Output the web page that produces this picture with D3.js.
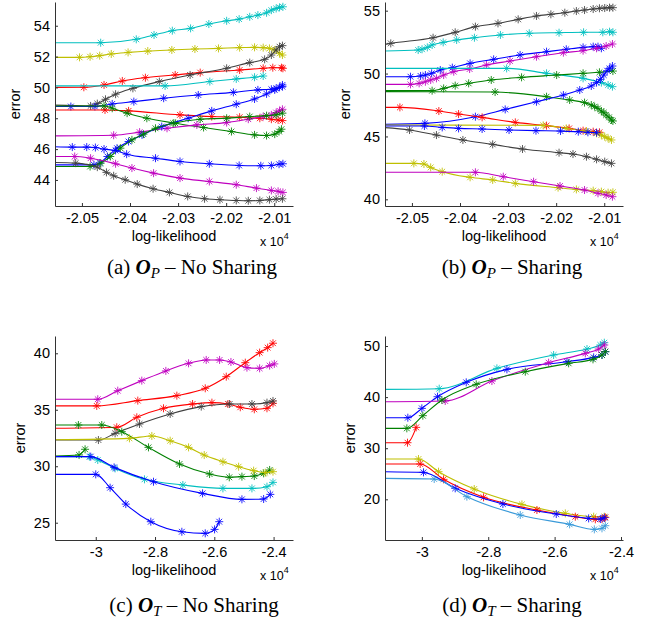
<!DOCTYPE html>
<html>
<head>
<meta charset="utf-8">
<script src="https://cdn.jsdelivr.net/npm/d3@7"></script>
<style>
  body { margin: 0; background: #fff; }
</style>
</head>
<body>
<svg id="fig" width="656" height="623"></svg>
<script>
// tick labels
const ticksXP = [-2.05, -2.04, -2.03, -2.02, -2.01];
const ticksXT = [-3, -2.8, -2.6, -2.4];
const ticksYa = [44, 46, 48, 50, 52, 54];
const ticksYb = [40, 45, 50, 55];
const ticksYc = [25, 30, 35, 40];
const ticksYd = [20, 30, 40, 50];

const captionLetters = ["(a)", "(b)", "(c)", "(d)"];
const captionSubs = ["P", "P", "T", "T"];
const captionTails = ["No Sharing", "Sharing", "No Sharing", "Sharing"];

// each run: [colour name, starting error (flat part), [[log-likelihood x1e4, error], ...]]
const panelA = [
  ["cyan", 52.9, [[-2.0461,52.90],[-2.0387,53.12],[-2.0350,53.40],[-2.0312,53.68],[-2.0274,53.83],[-2.0236,54.11],[-2.0199,54.32],[-2.0173,54.43],[-2.0151,54.58],[-2.0134,54.69],[-2.0116,54.84],[-2.0106,55.01],[-2.0096,55.12],[-2.0089,55.19],[-2.0082,55.23]]],
  ["yellow", 51.95, [[-2.0505,51.95],[-2.0483,51.99],[-2.0463,52.06],[-2.0439,52.17],[-2.0404,52.27],[-2.0363,52.36],[-2.0313,52.43],[-2.0265,52.49],[-2.0216,52.53],[-2.0172,52.58],[-2.0141,52.60],[-2.0123,52.58],[-2.0110,52.53],[-2.0099,52.43],[-2.0089,52.21],[-2.0083,52.10]]],
  ["red", 50.0, [[-2.0496,50.01],[-2.0454,50.16],[-2.0416,50.42],[-2.0368,50.63],[-2.0306,50.81],[-2.0254,50.96],[-2.0172,51.13],[-2.0123,51.24],[-2.0103,51.28],[-2.0085,51.28],[-2.0082,51.24]]],
  ["gray", 48.85, [[-2.0482,48.80],[-2.0468,48.95],[-2.0451,49.23],[-2.0430,49.56],[-2.0394,49.94],[-2.0339,50.38],[-2.0275,50.81],[-2.0199,51.24],[-2.0151,51.61],[-2.0120,51.82],[-2.0106,52.10],[-2.0096,52.43],[-2.0089,52.64],[-2.0083,52.71]]],
  ["cyan", 50.1, [[-2.0327,50.10],[-2.0234,50.38],[-2.0179,50.55],[-2.0141,50.66],[-2.0123,50.74]]],
  ["blue", 48.76, [[-2.0523,48.76],[-2.0473,48.76],[-2.0437,48.93],[-2.0392,49.08],[-2.0330,49.30],[-2.0258,49.51],[-2.0185,49.68],[-2.0134,49.84],[-2.0106,49.88],[-2.0096,49.94],[-2.0083,50.05]]],
  ["red", 48.54, [[-2.0452,48.54],[-2.0403,48.48],[-2.0296,48.22],[-2.0230,48.11],[-2.0172,48.07],[-2.0130,48.00],[-2.0106,47.94],[-2.0092,47.89],[-2.0083,47.85]]],
  ["green", 48.8, [[-2.0454,48.80],[-2.0437,48.65],[-2.0406,48.33],[-2.0365,48.00],[-2.0306,47.68],[-2.0247,47.40],[-2.0189,47.14],[-2.0141,46.92],[-2.0116,46.88],[-2.0099,46.97],[-2.0090,47.14],[-2.0085,47.29]]],
  ["magenta", 46.86, [[-2.0434,46.90],[-2.0380,47.10],[-2.0323,47.35],[-2.0261,47.57],[-2.0199,47.72],[-2.0154,47.94],[-2.0123,48.11],[-2.0106,48.22],[-2.0096,48.37],[-2.0089,48.48],[-2.0083,48.58]]],
  ["blue", 44.98, [[-2.0475,44.98],[-2.0463,45.09],[-2.0447,45.52],[-2.0427,46.06],[-2.0403,46.49],[-2.0375,46.92],[-2.0334,47.46],[-2.0279,48.00],[-2.0230,48.48],[-2.0179,48.91],[-2.0141,49.25],[-2.0116,49.58],[-2.0099,49.84],[-2.0089,50.01],[-2.0083,50.16]]],
  ["green", 44.87, [[-2.0483,44.87],[-2.0461,45.09],[-2.0441,45.52],[-2.0420,46.06],[-2.0396,46.60],[-2.0372,46.97],[-2.0347,47.35],[-2.0310,47.68],[-2.0254,47.94],[-2.0199,48.00],[-2.0151,48.11],[-2.0116,48.17],[-2.0096,48.22],[-2.0083,48.33]]],
  ["blue", 46.15, [[-2.0520,46.13],[-2.0490,46.13],[-2.0472,46.10],[-2.0454,46.00],[-2.0430,45.91],[-2.0407,45.67],[-2.0347,45.41],[-2.0296,45.20],[-2.0235,45.05],[-2.0173,44.94],[-2.0128,44.92],[-2.0106,44.94],[-2.0090,45.02],[-2.0082,45.05]]],
  ["magenta", 45.52, [[-2.0515,45.52],[-2.0482,45.41],[-2.0430,45.05],[-2.0396,44.77],[-2.0351,44.44],[-2.0296,44.12],[-2.0235,43.90],[-2.0179,43.69],[-2.0137,43.47],[-2.0106,43.32],[-2.0092,43.26],[-2.0082,43.19]]],
  ["gray", 45.13, [[-2.0513,45.09],[-2.0468,44.83],[-2.0449,44.49],[-2.0434,44.27],[-2.0410,44.01],[-2.0385,43.73],[-2.0352,43.43],[-2.0318,43.19],[-2.0280,42.93],[-2.0245,42.78],[-2.0213,42.72],[-2.0179,42.67],[-2.0154,42.65],[-2.0130,42.67],[-2.0110,42.72],[-2.0096,42.76],[-2.0083,42.78]]]
];

const panelB = [
  ["gray", 52.32, [[-2.0544,52.40],[-2.0456,52.85],[-2.0410,53.28],[-2.0368,53.73],[-2.0321,53.99],[-2.0279,54.31],[-2.0241,54.58],[-2.0211,54.71],[-2.0182,54.84],[-2.0158,54.97],[-2.0141,55.05],[-2.0123,55.13],[-2.0110,55.19],[-2.0099,55.21],[-2.0089,55.24],[-2.0082,55.24]]],
  ["cyan", 51.79, [[-2.0487,51.87],[-2.0479,51.93],[-2.0468,52.08],[-2.0458,52.27],[-2.0435,52.48],[-2.0407,52.67],[-2.0370,52.85],[-2.0316,53.07],[-2.0256,53.20],[-2.0194,53.25],[-2.0143,53.28],[-2.0103,53.28],[-2.0089,53.33],[-2.0082,53.28]]],
  ["blue", 49.75, [[-2.0503,49.75],[-2.0482,49.81],[-2.0472,49.88],[-2.0459,50.02],[-2.0441,50.28],[-2.0416,50.47],[-2.0379,50.81],[-2.0330,51.13],[-2.0275,51.48],[-2.0220,51.74],[-2.0179,51.93],[-2.0144,52.08],[-2.0123,52.14],[-2.0113,52.14],[-2.0106,52.01]]],
  ["magenta", 49.14, [[-2.0503,49.14],[-2.0485,49.22],[-2.0472,49.35],[-2.0461,49.49],[-2.0449,49.62],[-2.0434,49.88],[-2.0413,50.15],[-2.0380,50.36],[-2.0345,50.68],[-2.0296,51.00],[-2.0241,51.34],[-2.0185,51.66],[-2.0144,51.82],[-2.0116,52.01],[-2.0096,52.19],[-2.0083,52.35]]],
  ["cyan", 50.41, [[-2.0303,50.41],[-2.0220,50.02],[-2.0144,49.62],[-2.0106,49.28],[-2.0092,49.09],[-2.0083,48.96]]],
  ["green", 48.64, [[-2.0458,48.64],[-2.0434,48.82],[-2.0410,49.04],[-2.0382,49.22],[-2.0335,49.49],[-2.0272,49.70],[-2.0199,49.88],[-2.0144,50.02],[-2.0110,50.10],[-2.0082,50.20]]],
  ["green", 48.56, [[-2.0327,48.53],[-2.0220,48.16],[-2.0172,47.90],[-2.0141,47.69],[-2.0127,47.50],[-2.0120,47.37],[-2.0113,47.23],[-2.0106,47.02],[-2.0101,46.89],[-2.0096,46.70],[-2.0090,46.52],[-2.0085,46.31],[-2.0082,46.23]]],
  ["blue", 45.96, [[-2.0473,46.04],[-2.0368,46.57],[-2.0306,47.15],[-2.0241,47.76],[-2.0185,48.29],[-2.0151,48.69],[-2.0127,49.01],[-2.0116,49.28],[-2.0108,49.54],[-2.0101,49.88],[-2.0094,50.23],[-2.0089,50.41],[-2.0083,50.60]]],
  ["red", 47.31, [[-2.0525,47.31],[-2.0444,47.02],[-2.0403,46.78],[-2.0354,46.52],[-2.0285,46.12],[-2.0220,45.86],[-2.0173,45.64],[-2.0144,45.46],[-2.0123,45.38],[-2.0110,45.33]]],
  ["yellow", 45.91, [[-2.0227,45.88],[-2.0179,45.64],[-2.0137,45.43],[-2.0116,45.25],[-2.0106,45.11],[-2.0099,44.98],[-2.0092,44.85],[-2.0085,44.72]]],
  ["blue", 45.83, [[-2.0474,45.83],[-2.0437,45.72],[-2.0403,45.64],[-2.0354,45.59],[-2.0298,45.51],[-2.0242,45.46],[-2.0191,45.43],[-2.0154,45.38],[-2.0134,45.33],[-2.0116,45.30]]],
  ["gray", 45.70, [[-2.0505,45.51],[-2.0449,45.11],[-2.0394,44.72],[-2.0332,44.37],[-2.0270,44.00],[-2.0194,43.71],[-2.0165,43.60],[-2.0137,43.39],[-2.0116,43.18],[-2.0099,43.00],[-2.0085,42.86]]],
  ["yellow", 42.86, [[-2.0496,42.86],[-2.0475,42.81],[-2.0461,42.54],[-2.0437,42.20],[-2.0379,41.75],[-2.0332,41.54],[-2.0285,41.27],[-2.0196,40.93],[-2.0158,40.79],[-2.0123,40.69],[-2.0106,40.61],[-2.0092,40.53],[-2.0082,40.56]]],
  ["magenta", 42.15, [[-2.0368,42.15],[-2.0310,41.80],[-2.0247,41.40],[-2.0192,41.06],[-2.0141,40.74],[-2.0113,40.48],[-2.0096,40.34],[-2.0083,40.21]]]
];

const panelC = [
  ["magenta", 35.93, [[-2.9932,35.93],[-2.9257,36.69],[-2.8446,37.58],[-2.7635,38.44],[-2.6869,39.11],[-2.6273,39.41],[-2.5822,39.41],[-2.5439,39.23],[-2.4899,38.73],[-2.4471,38.67],[-2.4133,38.91],[-2.3975,39.06]]],
  ["red", 35.34, [[-2.9966,35.34],[-2.8581,35.81],[-2.7264,36.25],[-2.6306,36.90],[-2.5597,37.93],[-2.4955,39.17],[-2.4471,40.06],[-2.4200,40.50],[-2.4020,40.89]]],
  ["red", 33.36, [[-2.9291,33.45],[-2.8615,34.33],[-2.7714,35.13],[-2.6734,35.51],[-2.6081,35.63],[-2.5541,35.51],[-2.5124,35.22],[-2.4651,35.04],[-2.4223,35.13],[-2.4020,35.57]]],
  ["gray", 32.32, [[-2.9910,32.32],[-2.9347,32.91],[-2.8525,33.74],[-2.7489,34.63],[-2.6441,35.28],[-2.5484,35.51],[-2.4730,35.51],[-2.4223,35.63],[-2.4020,35.78]]],
  ["green", 33.65, [[-3.0586,33.65],[-2.9797,33.65],[-2.9122,33.06],[-2.8221,31.67],[-2.7174,30.20],[-2.6160,29.31],[-2.5495,29.02],[-2.5068,29.08],[-2.4651,29.13],[-2.4336,29.37],[-2.4133,29.67]]],
  ["yellow", 32.35, [[-2.8863,32.47],[-2.8108,32.68],[-2.7489,32.26],[-2.6869,31.67],[-2.6340,30.99],[-2.5709,30.40],[-2.5180,29.96],[-2.4673,29.61],[-2.4279,29.43],[-2.4020,29.52]]],
  ["green", 30.91, [[-3.0563,31.00],[-3.0360,31.50]]],
  ["cyan", 30.85, [[-3.0214,30.85],[-2.9932,30.55],[-2.9347,29.81],[-2.8356,28.84],[-2.7061,28.34],[-2.5709,28.04],[-2.4730,28.04],[-2.4223,28.19],[-2.4020,28.57]]],
  ["blue", 30.85, [[-3.0169,30.85],[-2.9381,29.90],[-2.8052,28.63],[-2.6396,27.60],[-2.5068,27.07],[-2.4336,27.10],[-2.4110,27.51]]],
  ["blue", 29.28, [[-3.0000,29.28],[-2.9516,28.10],[-2.8986,26.65],[-2.8142,25.09],[-2.7095,24.20],[-2.6306,24.06],[-2.5991,24.41],[-2.5833,25.09]]]
];

const panelD = [
  ["cyan", 41.52, [[-2.9477,41.65],[-2.7739,45.63],[-2.6030,48.24],[-2.5025,49.41],[-2.4623,50.20],[-2.4503,50.65]]],
  ["blue", 35.97, [[-3.0422,35.97],[-3.0000,37.80],[-2.9528,40.08],[-2.8663,42.89],[-2.7437,45.43],[-2.5628,46.93],[-2.4824,47.78],[-2.4573,48.24],[-2.4472,48.89]]],
  ["magenta", 39.1, [[-2.9296,39.24],[-2.7889,43.15],[-2.6181,46.74],[-2.5075,48.56],[-2.4673,49.41],[-2.4503,50.20]]],
  ["green", 33.89, [[-3.0452,33.89],[-2.9970,36.37],[-2.9397,39.43],[-2.8362,42.50],[-2.6884,44.98],[-2.5578,46.61],[-2.4844,47.39],[-2.4573,48.24],[-2.4472,48.89]]],
  ["red", 31.08, [[-3.0432,31.08],[-3.0171,34.08]]],
  ["yellow", 27.89, [[-3.0101,27.89],[-2.9497,25.41],[-2.8422,22.02],[-2.6985,19.01],[-2.5678,17.25],[-2.4824,16.60],[-2.4503,16.60]]],
  ["red", 26.91, [[-3.0050,26.91],[-2.9347,23.91],[-2.8141,20.39],[-2.6533,17.91],[-2.5377,16.60],[-2.4774,16.08],[-2.4573,16.14],[-2.4472,16.47]]],
  ["blue", 25.41, [[-2.9950,25.28],[-2.8995,22.15],[-2.7558,19.08],[-2.5950,17.12],[-2.4975,16.27],[-2.4623,16.14],[-2.4503,16.41]]],
  ["lightblue", 24.1, [[-2.9628,23.97],[-2.8643,20.52],[-2.7035,16.93],[-2.5548,15.10],[-2.4804,14.12],[-2.4573,14.32],[-2.4472,14.84]]]
];

const colors = {
  blue: "#0000ff", green: "#008000", red: "#ff0000", cyan: "#00bfbf",
  magenta: "#bf00bf", yellow: "#bfbf00", gray: "#404040", lightblue: "#3a9ad9"
};

const svg = d3.select("#fig");
svg.append("rect").attr("width", 656).attr("height", 623).attr("fill", "#fff");

const W = 238, H = 204;
const sans = "'Liberation Sans', Arial, sans-serif";
const serif = "'Liberation Serif', 'Times New Roman', serif";

const panels = [
  {data: panelA, xd: [-2.0556, -2.0061], yd: [42.31, 55.54], xt: ticksXP, yt: ticksYa, left: 55, top: 2, ylabX: 20, capX: 192, capY: 274},
  {data: panelB, xd: [-2.0556, -2.0061], yd: [39.47, 55.69], xt: ticksXP, yt: ticksYb, left: 385, top: 2, ylabX: 350, capX: 512, capY: 274},
  {data: panelC, xd: [-3.1375, -2.3345], yd: [23.47, 41.53], xt: ticksXT, yt: ticksYc, left: 55, top: 336, ylabX: 25, capX: 194, capY: 612},
  {data: panelD, xd: [-3.111, -2.394], yd: [12.04, 51.96], xt: ticksXT, yt: ticksYd, left: 385, top: 336, ylabX: 355, capX: 512, capY: 612}
];

// asterisk marker, MATLAB '*'
const r = 4, q = r * 0.72;
const star = `M${-r},0H${r}M0,${-r}V${r}M${-q},${-q}L${q},${q}M${-q},${q}L${q},${-q}`;

panels.forEach((p, i) => {
  const g = svg.append("g").attr("transform", `translate(${p.left},${p.top})`);
  const x = d3.scaleLinear().domain(p.xd).range([0, W]);
  const y = d3.scaleLinear().domain(p.yd).range([H, 0]);

  g.append("clipPath").attr("id", "clip" + i)
    .append("rect").attr("x", 0).attr("y", -2).attr("width", W + 1).attr("height", H + 2);
  const plot = g.append("g").attr("clip-path", `url(#clip${i})`);

  const line = d3.line()
    .x(d => x(d[0]))
    .y(d => y(d[1]))
    .curve(d3.curveMonotoneX);

  p.data.forEach(s => {
    let col = colors[s[0]];
    let pts = [[p.xd[0], s[1]]].concat(s[2]);
    plot.append("path")
      .attr("d", line(pts))
      .attr("fill", "none")
      .attr("stroke", col)
      .attr("stroke-width", 1.1);
    plot.selectAll(null)
      .data(s[2])
      .enter()
      .append("path")
      .attr("d", star)
      .attr("transform", d => `translate(${x(d[0])},${y(d[1])})`)
      .attr("fill", "none")
      .attr("stroke", col)
      .attr("stroke-width", 1)
      .attr("stroke-opacity", 0.85);
  });

  // axes, ticks pointing inwards
  let xa = g.append("g")
    .attr("transform", `translate(0,${H})`)
    .call(d3.axisBottom(x).tickValues(p.xt).tickFormat(d => String(d))
      .tickSizeInner(-3).tickSizeOuter(0).tickPadding(6.5));
  let ya = g.append("g")
    .call(d3.axisLeft(y).tickValues(p.yt).tickFormat(d => String(d))
      .tickSizeInner(-3).tickSizeOuter(0).tickPadding(5));
  [xa, ya].forEach(a => {
    a.attr("font-family", sans).attr("font-size", 14.5);
    a.selectAll("path, line").attr("stroke", "#333");
    a.selectAll("text").attr("fill", "#000");
  });

  g.append("text")
    .attr("x", W / 2).attr("y", H + 35)
    .attr("text-anchor", "middle")
    .attr("font-family", sans).attr("font-size", 14.5)
    .text("log-likelihood");

  let ex = g.append("text")
    .attr("x", 205).attr("y", H + 40)
    .attr("font-family", sans).attr("font-size", 12.5);
  ex.append("tspan").text("x 10");
  ex.append("tspan").attr("dy", -7).attr("font-size", 9).text("4");

  svg.append("text")
    .attr("transform", `translate(${p.ylabX},${p.top + H / 2}) rotate(-90)`)
    .attr("text-anchor", "middle")
    .attr("font-family", sans).attr("font-size", 14.5)
    .text("error");

  // caption
  let cap = svg.append("text")
    .attr("x", p.capX).attr("y", p.capY)
    .attr("text-anchor", "middle")
    .attr("font-family", serif).attr("font-size", 21);
  cap.append("tspan").text(captionLetters[i] + " ");
  cap.append("tspan").attr("font-weight", "bold").attr("font-style", "italic").text("O");
  cap.append("tspan").attr("font-style", "italic").attr("font-size", 15).attr("dy", 4).text(captionSubs[i]);
  cap.append("tspan").attr("dy", -4).text(" \u2013 " + captionTails[i]);
});
</script>
</body>
</html>
